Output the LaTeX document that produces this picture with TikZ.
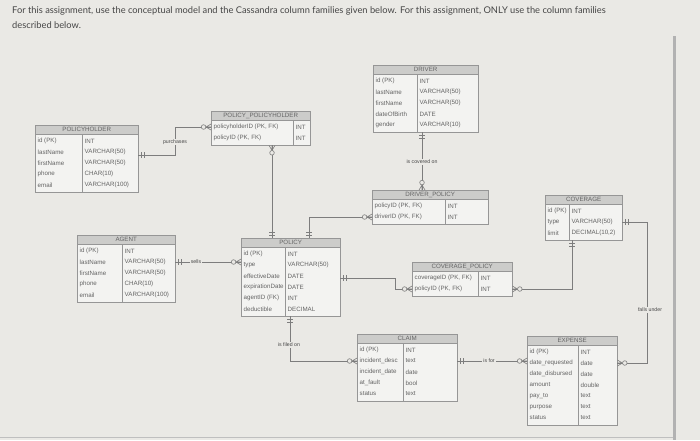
\documentclass[tikz,border=0pt]{standalone}
\usepackage{fontspec}
\setmainfont{Lato}
\newfontfamily\tabfont{Liberation Sans}
\definecolor{bgc}{RGB}{234,233,229}
\definecolor{bodyc}{RGB}{243,243,241}
\definecolor{headc}{RGB}{204,204,202}
\definecolor{bordc}{RGB}{150,150,150}
\definecolor{txtc}{RGB}{100,100,100}
\definecolor{linec}{RGB}{125,125,125}
\definecolor{topc}{RGB}{70,70,70}
\tikzset{
  tline/.style={draw=bordc,line width=0.6pt},
  cline/.style={draw=linec,line width=0.6pt},
  rowtxt/.style={inner sep=0pt,anchor=west,text=txtc,font=\tabfont\fontsize{6.2}{7}\selectfont},
  ttitle/.style={inner sep=0pt,text=txtc,font=\tabfont\fontsize{6.2}{7}\selectfont},
  rellabel/.style={fill=bgc,inner sep=1pt,text=topc,font=\tabfont\fontsize{5.2}{6}\selectfont},
  mone/.pic={\draw[cline] (3,-2.8) -- (3,2.8) (5.5,-2.8) -- (5.5,2.8);},
  mzm/.pic={\draw[cline] (0,-3) -- (5,0) -- (0,3) (0,0) -- (5,0);
            \draw[cline,fill=bgc] (7.4,0) circle (2.3pt);},
}
% #1 name, #2 x, #3 y, #4 width, #5 divider offset, #6 rows, #7 title
\newcommand\ertab[7]{%
  \expandafter\def\csname erdiv#1\endcsname{#5}%
  \node[fill=bodyc,inner sep=0pt,anchor=north west,minimum width=#4pt,
        minimum height={(12+#6*11)*1pt}] (#1) at (#2,#3) {};
  \fill[headc] (#1.north west) rectangle ([yshift=-9pt]#1.north east);
  \draw[tline] (#1.north west) rectangle (#1.south east);
  \draw[tline] ([yshift=-9pt]#1.north west) -- ([yshift=-9pt]#1.north east);
  \draw[tline] ([xshift=#5pt,yshift=-9pt]#1.north west) -- ([xshift=#5pt]#1.south west);
  \node[ttitle] (#1-t) at ([yshift=-4.6pt]#1.north) {#7};
}
% #1 name, #2 row index, #3 left text, #4 right text
\newcommand\errow[4]{%
  \node[rowtxt] (#1-a#2) at ([xshift=2.5pt,yshift={(-10.5-(#2-0.5)*11)*1pt}]#1.north west) {#3};
  \node[rowtxt] (#1-b#2) at ([xshift={(\csname erdiv#1\endcsname+2.5)*1pt},yshift={(-10.5-(#2-0.5)*11)*1pt}]#1.north west) {#4};
}
\begin{document}
\begin{tikzpicture}[x=1pt,y=-1pt]
\path[fill=bgc] (0,0) rectangle (700,440);
\useasboundingbox (0,0) rectangle (700,440);
% page edges
\fill[black!30] (673,36) rectangle (675.5,440);
\fill[black!25] (0,436.5) rectangle (673,438);
% intro text
\node[anchor=base west,inner sep=0pt,text=topc,font=\fontsize{9.3}{11}\selectfont] (intro1) at (12,13.5)
  {For this assignment, use the conceptual model and the Cassandra column families given below. For this assignment, ONLY use the column families};
\node[anchor=base west,inner sep=0pt,text=topc,font=\fontsize{9.3}{11}\selectfont] (intro2) at (12,28)
  {described below.};

% tables
\ertab{PH}{35}{125}{103}{47}{5}{POLICYHOLDER}
\errow{PH}{1}{id (PK)}{INT}
\errow{PH}{2}{lastName}{VARCHAR(50)}
\errow{PH}{3}{firstName}{VARCHAR(50)}
\errow{PH}{4}{phone}{CHAR(10)}
\errow{PH}{5}{email}{VARCHAR(100)}

\ertab{PPH}{211}{111}{99}{82}{2}{POLICY\_POLICYHOLDER}
\errow{PPH}{1}{policyholderID (PK, FK)}{INT}
\errow{PPH}{2}{policyID (PK, FK)}{INT}

\ertab{DR}{373}{65}{105}{44}{5}{DRIVER}
\errow{DR}{1}{id (PK)}{INT}
\errow{DR}{2}{lastName}{VARCHAR(50)}
\errow{DR}{3}{firstName}{VARCHAR(50)}
\errow{DR}{4}{dateOfBirth}{DATE}
\errow{DR}{5}{gender}{VARCHAR(10)}

\ertab{DP}{372}{190}{116}{73}{2}{DRIVER\_POLICY}
\errow{DP}{1}{policyID (PK, FK)}{INT}
\errow{DP}{2}{driverID (PK, FK)}{INT}

\ertab{COV}{545}{195}{77}{24}{3}{COVERAGE}
\errow{COV}{1}{id (PK)}{INT}
\errow{COV}{2}{type}{VARCHAR(50)}
\errow{COV}{3}{limit}{DECIMAL(10,2)}

\ertab{AG}{77}{235}{98}{45}{5}{AGENT}
\errow{AG}{1}{id (PK)}{INT}
\errow{AG}{2}{lastName}{VARCHAR(50)}
\errow{AG}{3}{firstName}{VARCHAR(50)}
\errow{AG}{4}{phone}{CHAR(10)}
\errow{AG}{5}{email}{VARCHAR(100)}

\ertab{POL}{241}{238}{99}{44}{6}{POLICY}
\errow{POL}{1}{id (PK)}{INT}
\errow{POL}{2}{type}{VARCHAR(50)}
\errow{POL}{3}{effectiveDate}{DATE}
\errow{POL}{4}{expirationDate}{DATE}
\errow{POL}{5}{agentID (FK)}{INT}
\errow{POL}{6}{deductible}{DECIMAL}

\ertab{CP}{412}{262}{100}{66}{2}{COVERAGE\_POLICY}
\errow{CP}{1}{coverageID (PK, FK)}{INT}
\errow{CP}{2}{policyID (PK, FK)}{INT}

\ertab{CL}{357}{334}{100}{46}{5}{CLAIM}
\errow{CL}{1}{id (PK)}{INT}
\errow{CL}{2}{incident\_desc}{text}
\errow{CL}{3}{incident\_date}{date}
\errow{CL}{4}{at\_fault}{bool}
\errow{CL}{5}{status}{text}

\ertab{EX}{527}{336}{90}{51}{7}{EXPENSE}
\errow{EX}{1}{id (PK)}{INT}
\errow{EX}{2}{date\_requested}{date}
\errow{EX}{3}{date\_disbursed}{date}
\errow{EX}{4}{amount}{double}
\errow{EX}{5}{pay\_to}{text}
\errow{EX}{6}{purpose}{text}
\errow{EX}{7}{status}{text}

% connectors
\coordinate (c1) at (175,155);
\draw[cline] (PH.east |- c1) -- (c1) |- (PPH.west |- PPH-a1);
\node[rellabel] (l1) at (175,142) {purchases};
\pic at (PH.east |- c1) {mone};
\pic[rotate=180] at (PPH.west |- PPH-a1) {mzm};

\coordinate (c2) at (272,0);
\draw[cline] (PPH.south -| c2) -- (POL.north -| c2);
\pic[rotate=-90] at (PPH.south -| c2) {mzm};
\pic[rotate=90] at (POL.north -| c2) {mone};

\coordinate (c3) at (422,0);
\draw[cline] (DR.south -| c3) -- (DP.north -| c3);
\node[rellabel] (l3) at (422,162) {is covered on};
\pic[rotate=-90] at (DR.south -| c3) {mone};
\pic[rotate=90] at (DP.north -| c3) {mzm};

\coordinate (c4) at (309,0);
\draw[cline] (DP.west |- DP-a2) -| (POL.north -| c4);
\pic[rotate=180] at (DP.west |- DP-a2) {mzm};
\pic[rotate=90] at (POL.north -| c4) {mone};

\draw[cline] (AG.east |- AG-a2) -- (POL.west |- AG-a2);
\node[rellabel] (l5) at (196,262) {sells};
\pic at (AG.east |- AG-a2) {mone};
\pic[rotate=180] at (POL.west |- AG-a2) {mzm};

\coordinate (c6) at (395,278);
\draw[cline] (POL.east |- c6) -- (c6) |- (CP.west |- CP-a2);
\pic at (POL.east |- c6) {mone};
\pic[rotate=180] at (CP.west |- CP-a2) {mzm};

\coordinate (c7) at (572,0);
\draw[cline] (CP.east |- CP-a2) -| (COV.south -| c7);
\pic at (CP.east |- CP-a2) {mzm};
\pic[rotate=-90] at (COV.south -| c7) {mone};

\coordinate (c8) at (290,0);
\draw[cline] (POL.south -| c8) |- (CL.west |- CL-a2);
\node[rellabel] (l8) at (289,345) {is filed on};
\pic[rotate=-90] at (POL.south -| c8) {mone};
\pic[rotate=180] at (CL.west |- CL-a2) {mzm};

\draw[cline] (CL.east |- CL-a2) -- (EX.west |- CL-a2);
\node[rellabel] (l9) at (489,361) {is for};
\pic at (CL.east |- CL-a2) {mone};
\pic[rotate=180] at (EX.west |- CL-a2) {mzm};

\coordinate (c10) at (647,0);
\draw[cline] (COV.east |- COV-a2) -| (c10 |- EX-a2) -- (EX.east |- EX-a2);
\node[rellabel] (l10) at (650,310) {falls under};
\pic at (COV.east |- COV-a2) {mone};
\pic at (EX.east |- EX-a2) {mzm};
\end{tikzpicture}
\end{document}
